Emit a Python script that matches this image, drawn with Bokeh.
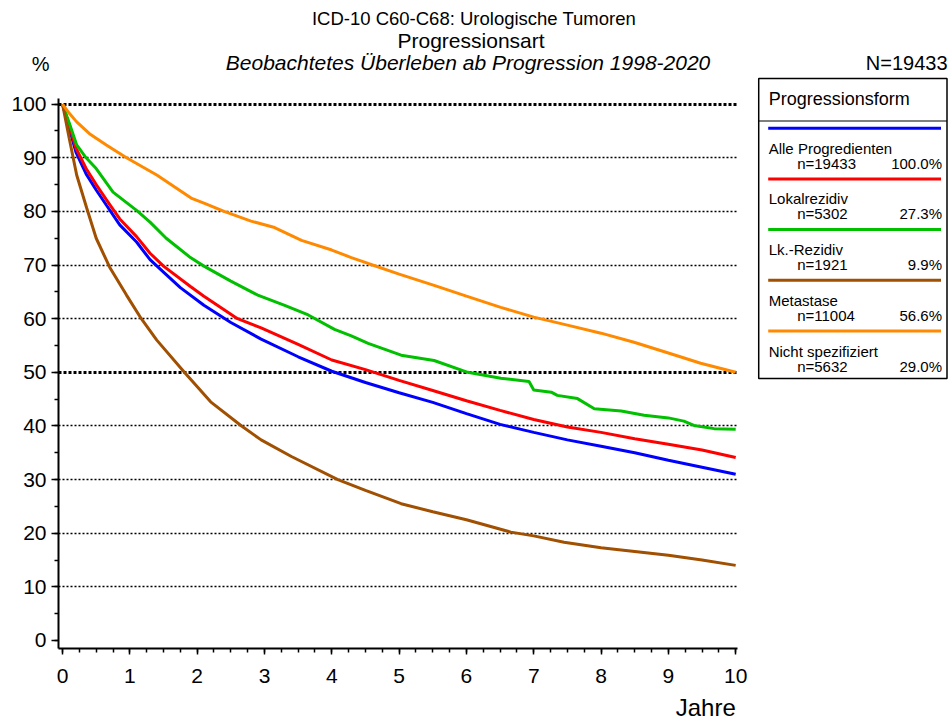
import json
from bokeh.plotting import figure
from bokeh.models import Range1d, FixedTicker, Grid, LinearAxis, CustomJSTickFormatter, ColumnDataSource
from bokeh.core.properties import value
from bokeh.embed import file_html
from bokeh.resources import INLINE

# ---------------- data ----------------
jahre_alle = [0, 0.1, 0.2, 0.35, 0.5, 0.65, 0.85, 1.1, 1.3, 1.5, 1.75, 2.1, 2.5, 2.95, 3.5, 4, 4.5, 5, 5.5, 6, 6.5, 7, 7.5, 8, 8.5, 9, 9.5, 10]
surv_alle = [100, 95.5, 91, 87, 84, 81.2, 77.5, 74.3, 71, 68.7, 65.8, 62.5, 59.3, 56.2, 52.9, 50.2, 48.1, 46.2, 44.4, 42.3, 40.3, 38.8, 37.4, 36.2, 35.0, 33.6, 32.3, 31.0]

jahre_lokal = [0, 0.1, 0.2, 0.35, 0.5, 0.65, 0.85, 1.1, 1.3, 1.5, 1.9, 2.1, 2.6, 2.95, 3.5, 4, 4.5, 5, 5.5, 6, 6.5, 7, 7.5, 8, 8.5, 9, 9.5, 10]
surv_lokal = [100, 96, 91.8, 88, 85, 82.2, 78.6, 75.3, 72.2, 69.8, 66, 64.2, 60, 58.3, 55.2, 52.3, 50.5, 48.5, 46.6, 44.7, 42.9, 41.2, 39.8, 38.8, 37.6, 36.6, 35.5, 34.1]

jahre_lk = [0, 0.1, 0.21, 0.35, 0.5, 0.75, 1.1, 1.3, 1.54, 1.9, 2.1, 2.5, 2.9, 3.3, 3.65, 4.04, 4.29, 4.54, 5.03, 5.52, 6.02, 6.51, 6.93, 7.0, 7.26, 7.35, 7.65, 7.9, 8.3, 8.64, 9.0, 9.23, 9.38, 9.68, 10]
surv_lk = [100, 96.5, 92.4, 90, 88, 83.6, 80.2, 78, 75, 71.4, 69.8, 67, 64.4, 62.5, 60.7, 58, 56.8, 55.4, 53.2, 52.2, 50, 48.9, 48.3, 46.7, 46.3, 45.7, 45.1, 43.2, 42.8, 42, 41.5, 40.9, 40.1, 39.5, 39.4]

jahre_meta = [0, 0.1, 0.21, 0.36, 0.5, 0.7, 0.95, 1.17, 1.4, 1.81, 2.2, 2.66, 2.95, 3.4, 4.09, 4.5, 5.03, 5.5, 6, 6.66, 7.0, 7.45, 8, 8.5, 9, 9.5, 10]
surv_meta = [100, 93.6, 86.8, 80.6, 75, 69.6, 64.4, 60, 56, 50, 44.5, 40, 37.4, 34.3, 30, 28, 25.5, 24, 22.5, 20.2, 19.5, 18.3, 17.3, 16.6, 15.9, 15.0, 14.0]

jahre_nicht = [0, 0.1, 0.21, 0.4, 0.65, 0.95, 1.4, 1.91, 2.11, 2.4, 2.8, 3.15, 3.55, 4, 4.29, 4.54, 5, 5.52, 6, 6.51, 7, 7.5, 8, 8.49, 9, 9.48, 10]
surv_nicht = [100, 98.3, 96.7, 94.5, 92.4, 90, 86.8, 82.5, 81.5, 80, 78.2, 77, 74.6, 72.8, 71.4, 70.3, 68.3, 66.2, 64.2, 62.1, 60.3, 58.8, 57.3, 55.6, 53.6, 51.7, 50.0]

gruppen = ["Alle Progredienten", "Lokalrezidiv", "Lk.-Rezidiv", "Metastase", "Nicht spezifiziert"]
gruppen_n = [19433, 5302, 1921, 11004, 5632]
gruppen_pct = [100.0, 27.3, 9.9, 56.6, 29.0]
farben = ["#0000FF", "#FF0000", "#00C000", "#A05000", "#FF8A00"]

x_ticks = [0, 1, 2, 3, 4, 5, 6, 7, 8, 9, 10]
y_ticks = [0, 10, 20, 30, 40, 50, 60, 70, 80, 90, 100]
y_bold = [50, 100]

titel1 = "ICD-10 C60-C68: Urologische Tumoren"
titel2 = "Progressionsart"
titel3 = "Beobachtetes Überleben ab Progression 1998-2020"
gesamt_n = "N=19433"
legend_titel = "Progressionsform"
x_name = "Jahre"
y_name = "%"

FONT = "Liberation Sans"

# ---------------- layout geometry (page pixels) ----------------
W, H = 948, 728
FRAME_L, FRAME_B = 57, 648       # page coords of y axis / x axis
BL, BB = FRAME_L, H - FRAME_B
PX_PER_YEAR = 67.39
PX_PER_PCT = 5.3627
X0 = -0.06
Y0 = -1.5
X1 = X0 + (W - BL) / PX_PER_YEAR
Y1 = Y0 + (H - BB) / PX_PER_PCT
X_END = 10.03                    # right end of the drawn axis / grid
Y_END = 101.0


def dx(page_x):
    return X0 + (page_x - FRAME_L) / PX_PER_YEAR


def dy(page_y):
    return Y0 + (FRAME_B - page_y) / PX_PER_PCT


p = figure(width=W, height=H, x_range=Range1d(X0, X1), y_range=Range1d(Y0, Y1),
           output_backend="svg", toolbar_location=None, title=None,
           min_border_left=BL, min_border_right=0, min_border_top=0, min_border_bottom=BB)
p.outline_line_color = None
p.background_fill_color = "white"
p.border_fill_color = "white"

# axes
for ax in (p.xaxis[0], p.yaxis[0]):
    ax.axis_line_width = 2
    ax.axis_line_color = "black"
    ax.major_tick_line_color = "black"
    ax.minor_tick_line_color = "black"
    ax.major_tick_line_width = 1.5
    ax.minor_tick_line_width = 1.5
    ax.major_tick_in = 0
    ax.minor_tick_in = 0
    ax.major_label_text_font = FONT
    ax.major_label_text_font_size = "21px"
    ax.major_label_text_color = "black"

p.xaxis.bounds = (X0, X_END)
p.yaxis.bounds = (Y0, Y_END)
p.xaxis.ticker = FixedTicker(ticks=x_ticks, minor_ticks=[t / 4 for t in range(4 * x_ticks[-1] + 1)])
p.yaxis.ticker = FixedTicker(ticks=y_ticks, minor_ticks=[t / 2 for t in range(2 * y_ticks[-1] + 1) if t % 10 == 0])
p.xaxis.major_tick_out = 6
p.xaxis.minor_tick_out = 4
p.yaxis.major_tick_out = 7
p.yaxis.minor_tick_out = 4
p.xaxis.major_label_standoff = 14
p.yaxis.major_label_standoff = 5


def name_axis(side, tick, text, size, standoff):
    """A line-less axis carrying a single tick label: used for the axis names."""
    ax = LinearAxis(ticker=FixedTicker(ticks=[tick], minor_ticks=[]),
                    formatter=CustomJSTickFormatter(code="return %s;" % json.dumps(text)),
                    axis_line_color=None, major_tick_line_color=None, minor_tick_line_color=None,
                    major_tick_out=0, major_tick_in=0, minor_tick_out=0, minor_tick_in=0,
                    major_label_standoff=standoff, major_label_text_font=FONT,
                    major_label_text_font_size=size, major_label_text_color="black")
    p.add_layout(ax, side)


# "%" above the y axis (stacked outside the tick labels, pulled back inwards;
# non-breaking spaces keep the panel width non-negative)
name_axis("left", dy(63), "\u00a0" * 5 + y_name, "20px", -41)
# "Jahre" below the right end of the x axis
name_axis("below", dx(705), x_name, "24px", 8)

# grid (dotted, stops at the right end of the x axis)
p.xgrid.visible = False
p.ygrid.visible = False
thin = [t for t in y_ticks if t not in y_bold and t != 0]
if "cross_bounds" in Grid.properties():
    g1 = Grid(dimension=1, ticker=FixedTicker(ticks=thin), grid_line_color="black",
              grid_line_dash="2 2", grid_line_width=1.5, cross_bounds=(X0, X_END))
    g2 = Grid(dimension=1, ticker=FixedTicker(ticks=y_bold), grid_line_color="black",
              grid_line_dash="3 2", grid_line_width=3, cross_bounds=(X0, X_END))
    p.add_layout(g1)
    p.add_layout(g2)
else:
    p.segment(x0=X0, x1=X_END, y0=thin, y1=thin, line_color="black", line_dash="2 2", line_width=1.5)
    p.segment(x0=X0, x1=X_END, y0=y_bold, y1=y_bold, line_color="black", line_dash="3 2", line_width=3)

# curves
series = [(jahre_alle, surv_alle), (jahre_lokal, surv_lokal), (jahre_lk, surv_lk),
          (jahre_meta, surv_meta), (jahre_nicht, surv_nicht)]
for (xs, ys), c in zip(series, farben):
    p.line(xs, ys, line_color=c, line_width=3)


def txt(page_x, page_y, s, size, align="center", style="normal", baseline="middle"):
    p.text(x=[dx(page_x)], y=[dy(page_y)], text=[s], text_align=align, text_baseline=baseline,
           text_font=value(FONT), text_font_size=value(size), text_font_style=style,
           text_color="black")


# titles (inside the frame area above the data)
txt(473, 18, titel1, "18.5px")
txt(470, 40, titel2, "21px")
txt(467, 62, titel3, "21px", style="italic")
txt(947, 62, gesamt_n, "20px", align="right")

# legend box
box_l, box_r, box_t, box_b = 758, 946.5, 78, 378
p.quad(left=[dx(box_l)], right=[dx(box_r)], top=[dy(box_t)], bottom=[dy(box_b)],
       fill_color="white", line_color="black", line_width=1.5)
txt(768, 98, legend_titel, "18px", align="left")
p.segment(x0=[dx(box_l)], x1=[dx(box_r)], y0=[dy(120.5)], y1=[dy(120.5)],
          line_color="black", line_width=1.2)

step = 50.7
ys_line = [127.7 + step * i for i in range(len(gruppen))]
leg = ColumnDataSource(dict(
    y_line=[dy(y) for y in ys_line],
    y_name=[dy(y + 20) for y in ys_line],
    y_n=[dy(y + 35) for y in ys_line],
    name=gruppen,
    ntxt=["n=%d" % n for n in gruppen_n],
    pct=["%.1f%%" % v for v in gruppen_pct],
    color=farben,
))
p.segment(x0=dx(767.5), x1=dx(940.5), y0="y_line", y1="y_line", line_color="color",
          line_width=3, source=leg)
p.text(x=dx(768), y="y_name", text="name", text_align="left", text_baseline="alphabetic",
       text_font=value(FONT), text_font_size=value("15px"), text_color="black", source=leg)
p.text(x=dx(796.5), y="y_n", text="ntxt", text_align="left", text_baseline="alphabetic",
       text_font=value(FONT), text_font_size=value("15px"), text_color="black", source=leg)
p.text(x=dx(941.5), y="y_n", text="pct", text_align="right", text_baseline="alphabetic",
       text_font=value(FONT), text_font_size=value("15px"), text_color="black", source=leg)

open("out.html", "w").write(file_html(p, INLINE))
